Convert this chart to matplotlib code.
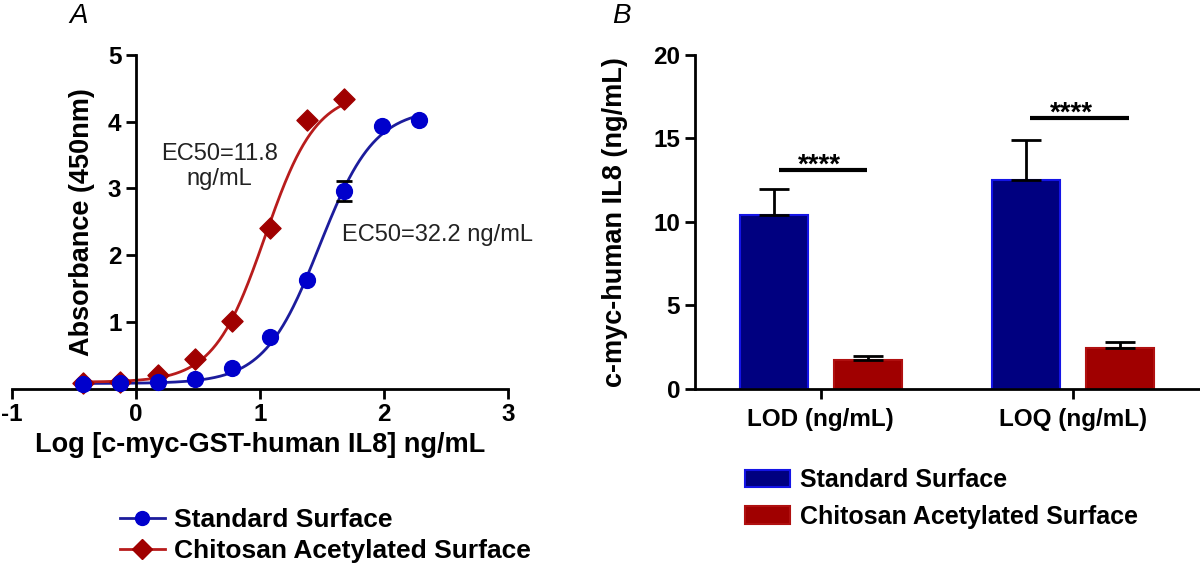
import numpy as np
import matplotlib
matplotlib.use('Agg')
import matplotlib.pyplot as plt
from matplotlib.patches import Patch
from matplotlib.lines import Line2D

plt.rcParams['font.family'] = ['Liberation Sans', 'DejaVu Sans']
plt.rcParams['axes.unicode_minus'] = False  # 用普通连字符 "-1"

# ---- 数据 A: ELISA 剂量曲线 ----
log_conc_std = [-0.426, -0.125, 0.176, 0.477, 0.778, 1.079, 1.380, 1.681, 1.982, 2.283]
abs_std = [0.08, 0.09, 0.11, 0.15, 0.31, 0.78, 1.63, 2.96, 3.93, 4.02]
err_std = [0, 0, 0, 0, 0, 0, 0, 0.15, 0, 0]

log_conc_chi = [-0.426, -0.125, 0.176, 0.477, 0.778, 1.079, 1.380, 1.681]
abs_chi = [0.09, 0.11, 0.20, 0.44, 1.02, 2.41, 4.02, 4.34]

# 4PL 拟合参数: bottom, top, logEC50, hill
fit_std = (0.08, 4.20, 1.48, 1.95)
fit_chi = (0.10, 4.45, 1.04, 2.10)

# ---- 数据 B: LOD / LOQ ----
groups = ['LOD (ng/mL)', 'LOQ (ng/mL)']
bar_std = [10.4, 12.5]
bar_std_err = [1.55, 2.4]
bar_chi = [1.75, 2.45]
bar_chi_err = [0.2, 0.35]
sig_y = [13.1, 16.2]
sig_x0 = [-0.167, -0.171]
sig_x1 = [0.183, 0.222]
sig_text = ['****', '****']

BLUE_PT = '#0000cc'
BLUE_LN = '#1c1c9c'
RED_PT = '#a00000'
RED_LN = '#b81c1c'
FS_TICK = 17.5
FS_LAB = 19.5


def four_pl(x, p):
    bottom, top, logec, hill = p
    return bottom + (top - bottom) / (1 + 10 ** (hill * (logec - x)))


fig = plt.figure(figsize=(12, 5.71), dpi=100)

# ---------------- A ----------------
ax1 = fig.add_axes([0.01, 0.319, 0.4133, 0.585])
xs_std = np.linspace(log_conc_std[0], log_conc_std[-1], 300)
xs_chi = np.linspace(log_conc_chi[0], log_conc_chi[-1], 300)
ax1.plot(xs_std, four_pl(xs_std, fit_std), color=BLUE_LN, lw=2.0, zorder=2)
ax1.plot(xs_chi, four_pl(xs_chi, fit_chi), color=RED_LN, lw=2.0, zorder=2)
ax1.scatter(log_conc_chi, abs_chi, marker='D', s=115, color=RED_PT, zorder=3, clip_on=False)
ax1.errorbar(log_conc_std, abs_std, yerr=err_std, fmt='none', ecolor='black',
             elinewidth=2, capsize=6, capthick=2, zorder=3)
ax1.scatter(log_conc_std, abs_std, marker='o', s=130, color=BLUE_PT, zorder=4, clip_on=False)

ax1.set_xlim(-1, 3)
ax1.set_ylim(0, 5)
ax1.spines['left'].set_position(('data', 0))
ax1.spines['right'].set_visible(False)
ax1.spines['top'].set_visible(False)
for s in ['left', 'bottom']:
    ax1.spines[s].set_linewidth(2)
ax1.set_xticks([-1, 0, 1, 2, 3])
ax1.set_yticks([0, 1, 2, 3, 4, 5])
ax1.set_yticklabels(['', '1', '2', '3', '4', '5'])
ax1.tick_params(width=2, length=7, labelsize=FS_TICK, direction='out')
for lab in ax1.get_xticklabels() + ax1.get_yticklabels():
    lab.set_fontweight('bold')
ax1.set_xlabel('Log [c-myc-GST-human IL8] ng/mL', fontsize=FS_LAB, fontweight='bold', labelpad=4)
ax1.set_ylabel('Absorbance (450nm)', fontsize=FS_LAB, fontweight='bold')
ax1.yaxis.set_label_coords(0.167, 0.5)
ax1.text(0.67, 3.33, 'EC50=11.8\nng/mL', fontsize=17, ha='center', va='center',
         color='#222222', linespacing=1.15)
ax1.text(1.66, 2.30, 'EC50=32.2 ng/mL', fontsize=17, ha='left', va='center', color='#222222')
fig.text(0.058, 0.972, 'A', fontsize=20, fontstyle='italic', ha='left', va='center')

leg1_handles = [
    Line2D([], [], color=BLUE_LN, lw=2, marker='o', markersize=10, markerfacecolor=BLUE_PT,
           markeredgecolor=BLUE_PT),
    Line2D([], [], color=RED_LN, lw=2, marker='D', markersize=10, markerfacecolor=RED_PT,
           markeredgecolor=RED_PT),
]
fig.legend(leg1_handles, ['Standard Surface', 'Chitosan Acetylated Surface'],
           loc='center left', bbox_to_anchor=(0.1, 0.062), frameon=False, borderpad=0,
           borderaxespad=0, prop={'size': 19, 'weight': 'bold'}, handlelength=1.7,
           labelspacing=0.28, handletextpad=0.35)

# ---------------- B ----------------
ax2 = fig.add_axes([0.579, 0.319, 0.42, 0.585])
x = np.arange(len(groups))
w = 0.27
ax2.bar(x - 0.186, bar_std, width=w, color='#000080', edgecolor='#1414e6', linewidth=1.5,
        yerr=[np.zeros(2), bar_std_err], error_kw=dict(ecolor='black', elinewidth=2, capsize=11,
                                                      capthick=2), zorder=2)
ax2.bar(x + 0.188, bar_chi, width=w, color='#a00000', edgecolor='#b01010', linewidth=1.5,
        yerr=[np.zeros(2), bar_chi_err], error_kw=dict(ecolor='black', elinewidth=2, capsize=11,
                                                      capthick=2), zorder=2)
for i in range(len(groups)):
    ax2.plot([x[i] + sig_x0[i], x[i] + sig_x1[i]], [sig_y[i], sig_y[i]], color='black', lw=3,
             solid_capstyle='butt')
    ax2.text(x[i] - 0.005, sig_y[i] - 0.15, sig_text[i], ha='center', va='baseline',
             fontsize=20, fontweight='bold')

ax2.set_xlim(-0.5, 1.5)
ax2.set_ylim(0, 20)
ax2.set_xticks(x)
ax2.set_xticklabels(groups)
ax2.set_yticks([0, 5, 10, 15, 20])
ax2.spines['right'].set_visible(False)
ax2.spines['top'].set_visible(False)
for s in ['left', 'bottom']:
    ax2.spines[s].set_linewidth(2)
ax2.tick_params(width=2, length=7, labelsize=FS_TICK, direction='out')
ax2.tick_params(axis='x', pad=7)
for lab in ax2.get_xticklabels() + ax2.get_yticklabels():
    lab.set_fontweight('bold')
ax2.set_ylabel('c-myc-human IL8 (ng/mL)', fontsize=FS_LAB, fontweight='bold')
ax2.yaxis.set_label_coords(-0.133, 0.5)
fig.text(0.51, 0.972, 'B', fontsize=20, fontstyle='italic', ha='left', va='center')

leg2_handles = [Patch(facecolor='#000080', edgecolor='#1414e6', linewidth=1.5),
                Patch(facecolor='#a00000', edgecolor='#b01010', linewidth=1.5)]
fig.legend(leg2_handles, ['Standard Surface', 'Chitosan Acetylated Surface'],
           loc='center left', bbox_to_anchor=(0.621, 0.127), frameon=False, borderpad=0,
           borderaxespad=0, prop={'size': 18, 'weight': 'bold'}, handlelength=1.8,
           handleheight=0.7, labelspacing=0.5, handletextpad=0.4)

fig.savefig('out.png', dpi=100)
